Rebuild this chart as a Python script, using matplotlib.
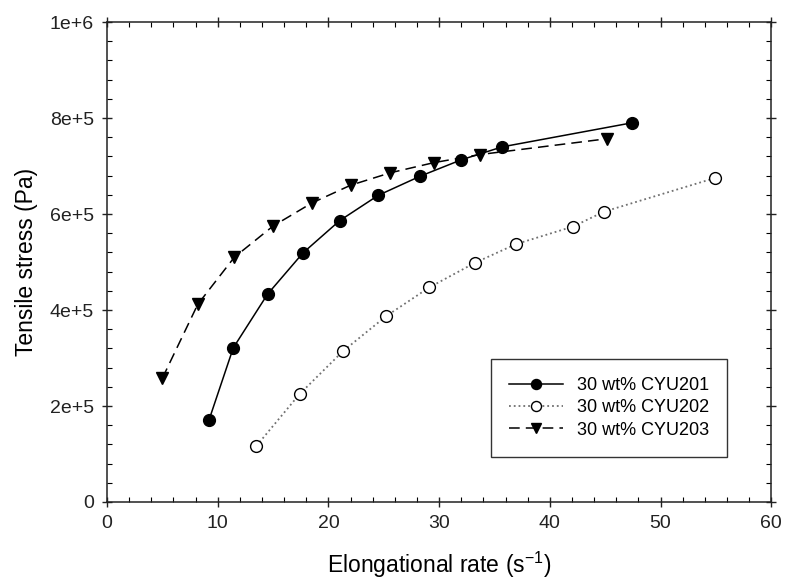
import matplotlib
matplotlib.use('Agg')
import matplotlib.pyplot as plt
from matplotlib.ticker import MultipleLocator, FixedLocator

plt.rcParams['font.family'] = ['Liberation Sans', 'DejaVu Sans']
plt.rcParams['mathtext.default'] = 'regular'

# elongational rate (1/s) and tensile stress (Pa) per blend
rate_201 = [9.2, 11.4, 14.5, 17.7, 21.0, 24.5, 28.3, 32.0, 35.7, 47.4]
stress_201 = [1.70e5, 3.21e5, 4.33e5, 5.19e5, 5.86e5, 6.39e5, 6.79e5, 7.13e5, 7.40e5, 7.90e5]

rate_202 = [13.5, 17.4, 21.3, 25.2, 29.1, 33.2, 36.9, 42.1, 44.9, 54.9]
stress_202 = [1.17e5, 2.25e5, 3.14e5, 3.87e5, 4.47e5, 4.98e5, 5.37e5, 5.74e5, 6.05e5, 6.75e5]

rate_203 = [5.0, 8.2, 11.5, 15.0, 18.5, 22.0, 25.6, 29.5, 33.7, 45.2]
stress_203 = [2.58e5, 4.12e5, 5.10e5, 5.75e5, 6.23e5, 6.60e5, 6.86e5, 7.07e5, 7.24e5, 7.57e5]

labels = ['30 wt% CYU201', '30 wt% CYU202', '30 wt% CYU203']
y_ticks = [0, 2e5, 4e5, 6e5, 8e5, 1e6]
y_tick_labels = ['0', '2e+5', '4e+5', '6e+5', '8e+5', '1e+6']

fig = plt.figure(figsize=(7.87, 5.81), dpi=100)
ax = fig.add_axes([0.136, 0.136, 0.844, 0.826])

ax.plot(rate_201, stress_201, '-', color='black', lw=1.1,
        marker='o', ms=8.5, mfc='black', mec='black', label=labels[0])
ax.plot(rate_202, stress_202, ':', color='#707070', lw=1.3,
        marker='o', ms=8.5, mfc='white', mec='black', mew=1.0, label=labels[1])
ax.plot(rate_203, stress_203, '--', color='black', lw=1.1, dashes=(7, 4),
        marker='v', ms=8.5, mfc='black', mec='black', label=labels[2])

ax.set_xlim(0, 60)
ax.set_ylim(0, 1e6)
ax.xaxis.set_major_locator(MultipleLocator(10))
ax.xaxis.set_minor_locator(MultipleLocator(2))
ax.yaxis.set_major_locator(FixedLocator(y_ticks))
ax.yaxis.set_minor_locator(MultipleLocator(4e4))
ax.set_yticklabels(y_tick_labels)

ax.tick_params(which='major', direction='inout', length=7, width=1.0,
               top=True, right=True, labelsize=14, colors='#222222', pad=6)
ax.tick_params(which='minor', direction='in', length=3.5, width=0.8,
               top=True, right=True)
for side in ax.spines.values():
    side.set_linewidth(1.1)
    side.set_color('#222222')

ax.set_xlabel('Elongational rate (s$^{-1}$)', fontsize=16.5, labelpad=13)
ax.set_ylabel('Tensile stress (Pa)', fontsize=16.5, labelpad=8)

leg = ax.legend(loc='lower right', bbox_to_anchor=(0.934, 0.094), borderaxespad=0,
                fontsize=13, frameon=True, fancybox=False, edgecolor='black',
                handlelength=3.0, handletextpad=0.8, borderpad=1.0,
                labelspacing=0.3, markerscale=0.85)
leg.get_frame().set_linewidth(1.0)

fig.savefig('out.png', dpi=100)
